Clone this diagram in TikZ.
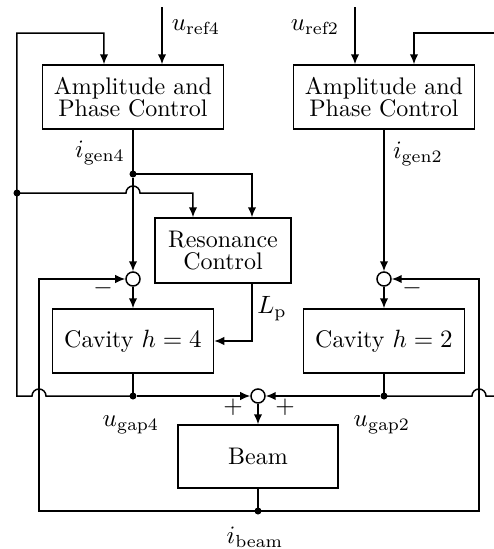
\documentclass[tikz,border=0pt]{standalone}
\usetikzlibrary{arrows.meta}
\begin{document}
\begin{tikzpicture}[x=0.4pt,y=-0.4pt,line width=0.6pt,
  every node/.style={font=\fontsize{9.6}{8.8}\selectfont},
  blk/.style={draw,fill=white,inner sep=0pt,align=center},
  apcbox/.style={blk,minimum width=72.4pt,minimum height=25.6pt},
  cavbox/.style={blk,minimum width=64.4pt,minimum height=25.6pt},
  sumc/.style={draw,circle,fill=white,minimum size=5.6pt,inner sep=0pt},
  dotc/.style={circle,fill,inner sep=0pt,minimum size=2.8pt},
  arr/.style={-{Latex[length=4pt,width=3.4pt]}},
  lbl/.style={inner sep=0pt}]
\useasboundingbox (0,0) rectangle (494,549);
% blocks
\node[apcbox] (apc4) at (133,97) {Amplitude and\\Phase Control};
\node[apcbox] (apc2) at (384,97) {Amplitude and\\Phase Control};
\node[blk,minimum width=54.4pt,minimum height=26pt] (rc) at (223,250.5) {Resonance\\Control};
\node[cavbox] (cav4) at (133,341) {Cavity $h=4$};
\node[cavbox] (cav2) at (384,341) {Cavity $h=2$};
\node[blk,minimum width=64pt,minimum height=25.2pt] (beam) at (258,456.5) {Beam};
% junctions
\node[sumc] (s4) at (133,279) {};
\node[sumc] (s2) at (384,279) {};
\node[sumc] (sm) at (258,396) {};
\node[dotc] (d1) at (133,174) {};
\node[dotc] (d2) at (17,193) {};
\node[dotc] (d3) at (133,396) {};
\node[dotc] (d4) at (384,396) {};
\node[dotc] (d5) at (258,511) {};
% free ends and corners
\coordinate (r4) at (162,7);
\coordinate (r2) at (355,7);
\coordinate (e1) at (494,33);
\coordinate (e2) at (494,396);
\coordinate (xl) at (39,511);
\coordinate (xr) at (479,511);
\coordinate (fl) at (104,33);
\coordinate (fr) at (414,33);
\coordinate (rcl) at (193,193);
\coordinate (rcr) at (252,174);
\coordinate (lp) at (252,341);
% reference inputs
\draw[arr] (r4) -- (r4 |- apc4.north);
\draw[arr] (r2) -- (r2 |- apc2.north);
% left feedback (ugap4 to APC4)
\draw[arr] (d3.center) -- (46,396) arc[start angle=0,end angle=180,radius=2.8pt]
  -- (17,396) -- (17,33) -- (fl) -- (fl |- apc4.north);
% right feedback (ugap2 to APC2)
\draw (e2) -- (486,396) arc[start angle=0,end angle=180,radius=2.8pt] -- (d4.center);
\draw[arr] (e1) -- (fr) -- (fr |- apc2.north);
% igen4
\draw (apc4.south) -- (d1.center);
\draw[arr] (d1) -- (s4.north);
\draw[arr] (d1.center) -- (rcr) -- (rcr |- rc.north);
\draw[arr] (d2.center) -- (126,193) arc[start angle=180,end angle=0,radius=2.8pt]
  -- (rcl) -- (rcl |- rc.north);
% Lp
\draw[arr] (lp |- rc.south) -- (lp) -- (cav4.east);
% cavity 4
\draw[arr] (s4) -- (cav4.north);
\draw (cav4.south) -- (d3.center);
\draw[arr] (d3) -- (sm.west);
% cavity 2
\draw[arr] (apc2.south) -- (s2.north);
\draw[arr] (s2) -- (cav2.north);
\draw (cav2.south) -- (d4.center);
\draw[arr] (d4) -- (sm.east);
% beam
\draw[arr] (sm) -- (beam.north);
\draw (beam.south) -- (d5.center);
\draw[arr] (d5.center) -- (xl) -- (xl |- s4) -- (s4.west);
\draw[arr] (d5.center) -- (xr) -- (xr |- s2) -- (s2.east);
% labels
\node[lbl] at (196,27) {$u_{\mathrm{ref4}}$};
\node[lbl] at (315,27) {$u_{\mathrm{ref2}}$};
\node[lbl] at (100,153) {$i_{\mathrm{gen4}}$};
\node[lbl] at (418,154) {$i_{\mathrm{gen2}}$};
\node[lbl] at (272,309) {$L_{\mathrm{p}}$};
\node[lbl] at (131,425) {$u_{\mathrm{gap4}}$};
\node[lbl] at (382,425) {$u_{\mathrm{gap2}}$};
\node[lbl] at (255,537) {$i_{\mathrm{beam}}$};
\node[lbl] at (103,288) {$-$};
\node[lbl] at (412,288) {$-$};
\node[lbl] at (233,407) {$+$};
\node[lbl] at (285,407) {$+$};
\end{tikzpicture}
\end{document}
